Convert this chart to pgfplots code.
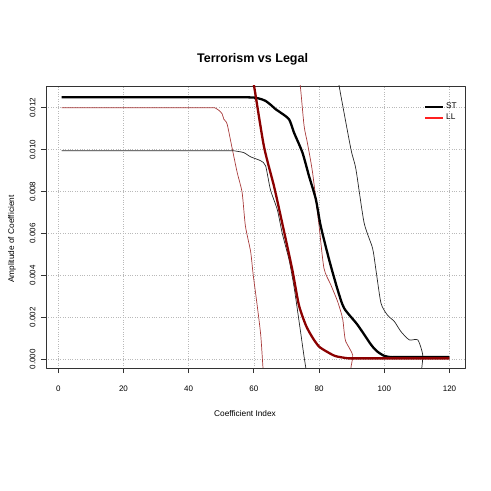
\documentclass[border=0pt]{standalone}
\usepackage{fontspec}
\setmainfont{Liberation Sans}
\usepackage{pgfplots}
\pgfplotsset{compat=1.18}
\definecolor{llthick}{HTML}{8B0000}
\definecolor{llthin}{HTML}{A83A3A}
\definecolor{stthin}{HTML}{262626}
\definecolor{legred}{HTML}{FF2020}

\begin{document}
\begin{tikzpicture}
\begin{axis}[
  at={(46pt,123pt)}, anchor=south west,
  scale only axis, width=419pt, height=282pt,
  xmin=-3.76, xmax=124.76, ymin=-0.00042, ymax=0.01304,
  xtick={0,20,40,60,80,100,120},
  ytick={0,0.002,0.004,0.006,0.008,0.010,0.012},
  scaled y ticks=false,
  /pgf/number format/assume math mode=true,
  yticklabel style={/pgf/number format/fixed, /pgf/number format/fixed zerofill,
                    /pgf/number format/precision=3, rotate=90, anchor=south},
  tick label style={font=\fontsize{8}{9}\selectfont},
  xticklabel shift=9pt, yticklabel shift=2pt,
  tick align=outside, tick pos=left, major tick length=5pt,
  axis line style={black!80, line width=0.8pt}, tick style={black!80, line width=0.8pt},
  grid=major, grid style={dotted, gray!55, line width=0.6pt},
  title={Terrorism vs Legal},
  title style={font=\bfseries\fontsize{12.5}{14}\selectfont, at={(axis description cs:0.493,1.075)}, anchor=center},
  xlabel={Coefficient Index},
  xlabel style={font=\fontsize{8.3}{10}\selectfont, at={(axis description cs:0.475,-0.16)}, anchor=center},
  ylabel={Amplitude of Coefficient},
  ylabel style={font=\fontsize{8.3}{10}\selectfont, at={(axis description cs:-0.081,0.457)}, anchor=center},
  legend style={font=\fontsize{8.3}{10}\selectfont, draw=none, fill=none,
                at={(axis description cs:0.895,0.955)}, anchor=north west},
  legend cell align=left,
  legend image code/.code={\draw[#1] (0pt,0pt) -- (18pt,0pt);},
  line join=round,
]
% LL lower band
\addplot[forget plot, llthin, line width=0.7pt, smooth, tension=0.4] coordinates {
  (1,0.012) (42,0.012) (44,0.012) (46,0.012) (48,0.012) (49.5,0.01185) (50.3,0.0117)
  (50.8,0.01145) (51.8,0.01122) (53.4,0.01002) (54.9,0.0089) (56.4,0.00795)
  (57.4,0.00636) (59,0.00514) (59.8,0.00402) (61,0.00259) (62.1,0.00116)
  (62.8,-0.00043) (63.5,-0.002)};
% LL upper band
\addplot[forget plot, llthin, line width=0.7pt, smooth, tension=0.4] coordinates {
  (1,0.0145) (64,0.0145) (66,0.0145) (68,0.0145) (70,0.0145) (72,0.0142) (73.3,0.0137)
  (74.2,0.0131) (75.4,0.01114) (76.4,0.01034) (78,0.00891) (80,0.00636)
  (81.5,0.00434) (83.6,0.00355) (85.7,0.00275) (87.2,0.00196) (87.7,0.0013)
  (88.2,0.00084) (90.3,0.0002) (89.7,-0.0005) (89.2,-0.002)};
% ST lower band
\addplot[forget plot, stthin, line width=0.7pt, smooth, tension=0.4] coordinates {
  (1,0.00995) (48,0.00995) (50,0.00995) (52,0.00995) (53.8,0.00995) (56.9,0.00986)
  (59,0.00966) (62.1,0.00947) (63.6,0.00923) (65.1,0.00808) (67.2,0.00713)
  (68.7,0.00601) (70.8,0.00474) (72.3,0.00347) (73.8,0.00188) (75.4,0.00012)
  (76.2,-0.0007) (77,-0.002)};
% ST upper band
\addplot[forget plot, stthin, line width=0.7pt, smooth, tension=0.4] coordinates {
  (1,0.0152) (74,0.0152) (76,0.0152) (78,0.0152) (80,0.0152) (83,0.0148) (85,0.014)
  (86.7,0.01257) (89.8,0.01) (91.3,0.00907) (93.8,0.00652) (96.4,0.0053)
  (97.5,0.0042) (99,0.00267) (101,0.0021) (103.1,0.0018) (105.1,0.00132)
  (107.7,0.00092) (110.3,0.00092) (111.8,0.0002) (111.4,-0.0006) (111,-0.002)};
% ST mean
\addplot[forget plot, black, line width=2.3pt, smooth, tension=0.4] coordinates {
  (1,0.0125) (52,0.0125) (54,0.0125) (56,0.0125) (58,0.0125) (60.5,0.01248)
  (62.5,0.0124) (63.6,0.01233) (65.1,0.01215) (66.7,0.01193) (68.2,0.01177)
  (70.8,0.01145) (72.3,0.01082) (74.9,0.00986) (76.9,0.00875) (79,0.00764)
  (80.5,0.00636) (83.1,0.00474) (85.7,0.00331) (87.7,0.00243) (91.8,0.00164)
  (96,0.00068) (98,0.00035) (100,0.00016) (102,0.0001) (104,0.0001) (120,0.0001)};
% LL mean
\addplot[forget plot, llthick, line width=2.3pt, smooth, tension=0.4] coordinates {
  (1,0.0155) (49,0.0155) (51,0.0155) (53,0.0155) (55,0.0155) (57,0.0152) (58.5,0.0143)
  (60,0.0131) (63.1,0.01015) (66.2,0.00824) (68.7,0.00649) (71.8,0.00426)
  (73.8,0.00259) (76,0.0016) (78,0.00103) (80,0.0006) (82.6,0.00034) (85,0.00015)
  (88.5,0.00005) (91,0.00004) (120,0.00004)};

\addlegendimage{black, line width=2pt}
\addlegendentry{ST}
\addlegendimage{legred, line width=1.5pt}
\addlegendentry{LL}
\end{axis}
\path (0pt,0pt) rectangle (491pt,491pt);
\end{tikzpicture}
\end{document}
